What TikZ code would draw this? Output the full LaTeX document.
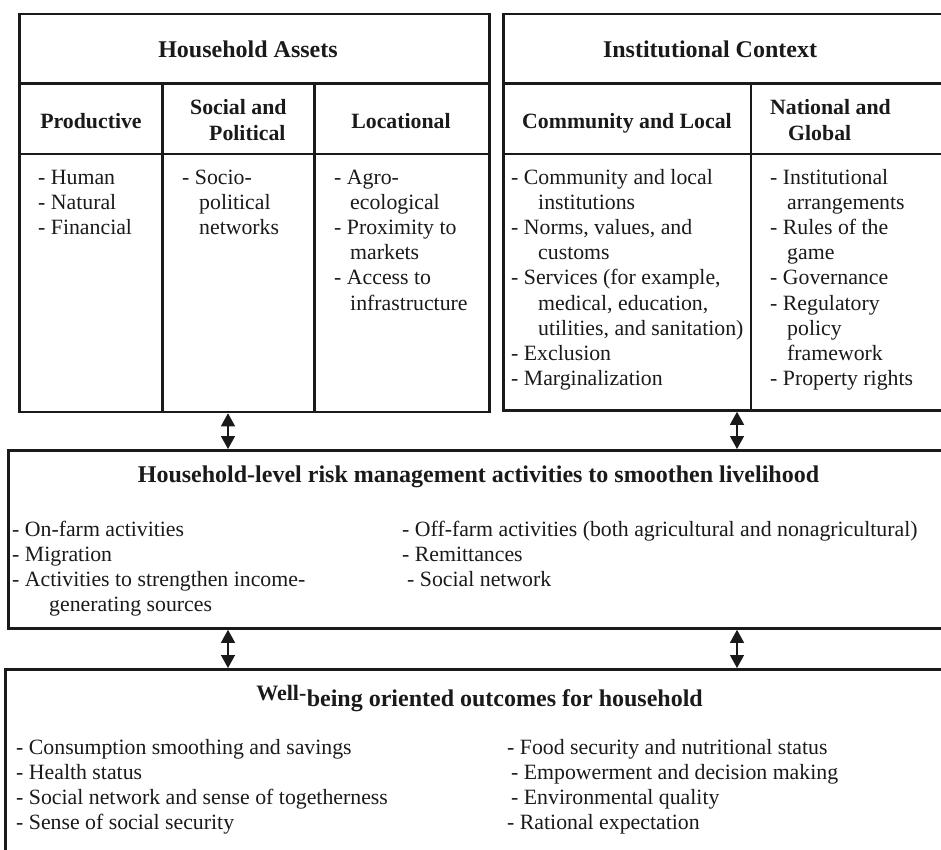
\documentclass[tikz,border=0pt]{standalone}
\usepackage{fontspec}
\setmainfont{Liberation Serif}
\usetikzlibrary{arrows.meta}
\definecolor{ink}{HTML}{1A1A1A}
\newcommand\itemlist[1]{\begin{tabular}[t]{@{}l@{}}#1\end{tabular}}
\begin{document}
\begin{tikzpicture}[x=1pt,y=-1pt,
  box/.style={draw=ink, line width=2.8pt, inner sep=0pt, anchor=north west},
  rule/.style={draw=ink, line width=2.8pt},
  body/.style={inner sep=0pt, anchor=base west, text=ink, font=\fontsize{21.8}{25.2}\selectfont},
  hdr/.style={inner sep=0pt, anchor=base, text=ink, font=\fontsize{21.8}{26}\selectfont\bfseries},
  ttl/.style={inner sep=0pt, anchor=base, text=ink, font=\fontsize{24}{28}\selectfont\bfseries},
  dbl/.style={draw=ink, line width=1.3pt, {Triangle[length=13pt,width=14pt]}-{Triangle[length=13pt,width=14pt]}}
]
\useasboundingbox (0,0) rectangle (941,849);
\clip (0,0) rectangle (941,849);
\fill[white] (0,0) rectangle (941,849);

% boxes
\node[box, minimum width=470pt, minimum height=398pt] (ha) at (18,12.5) {};
\node[box, minimum width=470pt, minimum height=396.5pt] (ic) at (502,12.5) {};
\node[box, minimum width=960pt, minimum height=178pt] (risk) at (7,449) {};
\node[box, minimum width=960pt, minimum height=230pt] (well) at (4,668) {};

% dividers in Household Assets
\draw[rule] (18,83.3) -- (488,83.3);
\draw[rule] (18,154) -- (488,154);
\draw[rule] (162.3,83.3) -- (162.3,410.5);
\draw[rule] (314.3,83.3) -- (314.3,410.5);
% dividers in Institutional Context
\draw[rule] (502,83.3) -- (972,83.3);
\draw[rule] (502,154) -- (972,154);
\draw[rule] (751,83.3) -- (751,409);

% titles
\node[ttl] (tHA) at (248,57.5) {Household Assets};
\node[ttl] (tIC) at (710,57.5) {Institutional Context};

% headers
\node[hdr] (hP) at (91,128.4) {Productive};
\node[hdr, anchor=base west] (hS) at (190,114.5) {\itemlist{Social and\\\hspace*{19pt}Political}};
\node[hdr] (hL) at (401,128.4) {Locational};
\node[hdr] (hC) at (627,128.4) {Community and Local};
\node[hdr, anchor=base west] (hN) at (770,114.5) {\itemlist{National and\\\hspace*{18pt}Global}};

% column contents
\node[body] (pP) at (38,184) {\itemlist{- Human\\- Natural\\- Financial}};
\node[body] (pS) at (182,184) {\itemlist{- Socio-\\\hspace*{17pt}political\\\hspace*{17pt}networks}};
\node[body] (pL) at (334,184) {\itemlist{- Agro-\\\hspace*{16pt}ecological\\- Proximity to\\\hspace*{16pt}markets\\- Access to\\\hspace*{16pt}infrastructure}};
\node[body] (pC) at (511,184) {\itemlist{- Community and local\\\hspace*{27pt}institutions\\- Norms, values, and\\\hspace*{27pt}customs\\- Services (for example,\\\hspace*{27pt}medical, education,\\\hspace*{27pt}utilities, and sanitation)\\- Exclusion\\- Marginalization}};
\node[body] (pN) at (770,184) {\itemlist{- Institutional\\\hspace*{17pt}arrangements\\- Rules of the\\\hspace*{17pt}game\\- Governance\\- Regulatory\\\hspace*{17pt}policy\\\hspace*{17pt}framework\\- Property rights}};

% middle box
\node[ttl] (tR) at (478.5,482) {Household-level risk management activities to smoothen livelihood};
\node[body] (rL) at (12,536) {\itemlist{- On-farm activities\\- Migration\\- Activities to strengthen income-\\\hspace*{37pt}generating sources}};
\node[body] (rR) at (402,536) {\itemlist{- Off-farm activities (both agricultural and nonagricultural)\\- Remittances\\\hspace*{5pt}- Social network}};

% bottom box
\node[ttl, anchor=base east] (tW) at (703,706) {being oriented outcomes for household};
\node[inner sep=0pt, anchor=base east, text=ink, font=\fontsize{22}{26}\selectfont\bfseries, yshift=6pt] (tW0) at (tW.base west) {Well-};
\node[body] (wL) at (16,754) {\itemlist{- Consumption smoothing and savings\\- Health status\\- Social network and sense of togetherness\\- Sense of social security}};
\node[body] (wR) at (507,754) {\itemlist{- Food security and nutritional status\\\hspace*{4pt}- Empowerment and decision making\\\hspace*{4pt}- Environmental quality\\- Rational expectation}};

% connectors
\coordinate (xL) at (228,0);
\coordinate (xR) at (737,0);
\draw[dbl] (ha.south -| xL) -- (risk.north -| xL);
\draw[dbl] (ic.south -| xR) -- (risk.north -| xR);
\draw[dbl] (risk.south -| xL) -- (well.north -| xL);
\draw[dbl] (risk.south -| xR) -- (well.north -| xR);
\end{tikzpicture}
\end{document}
